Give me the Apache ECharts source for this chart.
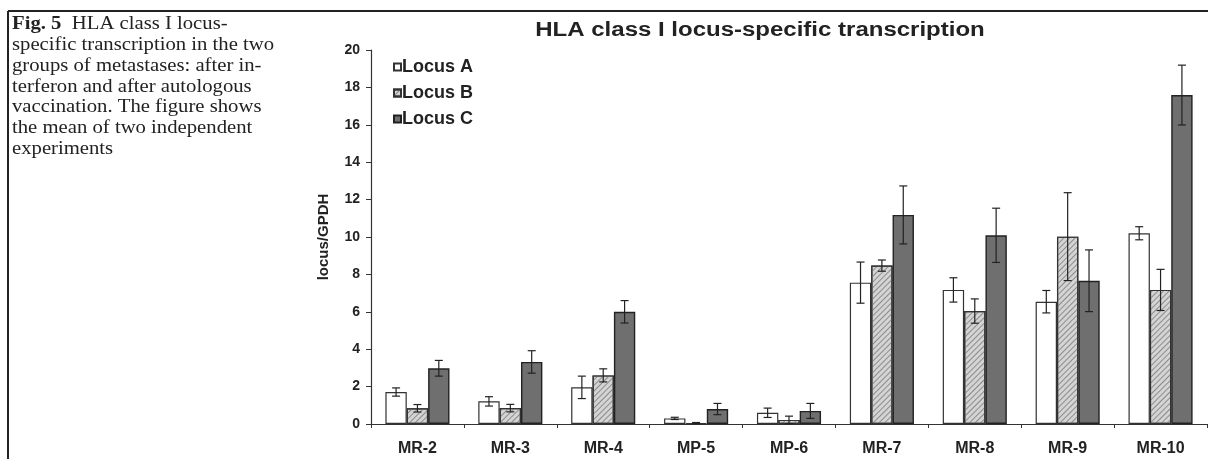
<!DOCTYPE html>
<html>
<head>
<meta charset="utf-8">
<script src="https://cdn.jsdelivr.net/npm/echarts@6/dist/echarts.min.js"></script>
<style>
html,body{margin:0;padding:0;background:#fff;}
#chart{width:1208px;height:459px;}
</style>
</head>
<body>
<div id="chart"></div>
<script>
// ---- data ----
const categories = ['MR-2','MR-3','MR-4','MP-5','MP-6','MR-7','MR-8','MR-9','MR-10'];
const seriesNames = ['Locus A','Locus B','Locus C'];
const locusA = [1.71, 1.21, 1.96, 0.30, 0.60, 7.56, 7.17, 6.54, 10.20];
const locusB = [0.84, 0.85, 2.60, 0.05, 0.22, 8.47, 6.04, 10.02, 7.17];
const locusC = [2.98, 3.32, 6.00, 0.80, 0.70, 11.18, 10.09, 7.66, 17.59];
const errA = [0.22, 0.25, 0.60, 0.06, 0.25, 1.10, 0.65, 0.60, 0.35];
const errB = [0.20, 0.20, 0.35, 0.03, 0.20, 0.30, 0.65, 2.35, 1.10];
const errC = [0.42, 0.60, 0.60, 0.30, 0.40, 1.55, 1.45, 1.65, 1.60];
const yTicks = [0,2,4,6,8,10,12,14,16,18,20];
const title = 'HLA class I locus-specific transcription';
const yName = 'locus/GPDH';
const caption = '{b|Fig. 5}  HLA class I locus-\nspecific transcription in the two\ngroups of metastases: after in-\nterferon and after autologous\nvaccination. The figure shows\nthe mean of two independent\nexperiments';

const values = [locusA, locusB, locusC];
const errs = [errA, errB, errC];
const CAT_GAP = 0.31;
const SANS = 'Arial, "Liberation Sans", sans-serif';
const SERIF = '"Times New Roman", "Liberation Serif", serif';

const chart = echarts.init(document.getElementById('chart'), null, {renderer:'canvas'});

const barStyles = [
  {color:'#ffffff', borderColor:'#333', borderWidth:1.2},
  {color:'#d4d4d4', borderColor:'#333', borderWidth:1.2,
   decal:{symbol:'rect', color:'#8c8c8c', dashArrayX:[1,0], dashArrayY:[1,2.5], rotation:-Math.PI/4, symbolSize:1}},
  {color:'#6f6f6f', borderColor:'#222', borderWidth:1.4}
];

const series = [];
values.forEach((vals, k) => {
  series.push({
    name: seriesNames[k], type:'bar', data: vals,
    barGap: '0%', barCategoryGap: (CAT_GAP*100)+'%',
    itemStyle: barStyles[k], emphasis:{disabled:true}, z:2
  });
});
values.forEach((vals, k) => {
  series.push({
    name: 'err'+k, type:'custom', z:5,
    data: vals.map((v,i)=>[i, v - errs[k][i], v + errs[k][i]]),
    renderItem: function(params, api){
      const ci = api.value(0);
      const catW = api.size([1,0])[0];
      const bw = catW*(1-CAT_GAP)/3;
      const lo = api.coord([ci, api.value(1)]);
      const hi = api.coord([ci, api.value(2)]);
      const x = lo[0] + (k-1)*bw;
      const cap = 4;
      const st = {stroke:'#222', lineWidth:1.2};
      return {type:'group', children:[
        {type:'line', shape:{x1:x, y1:lo[1], x2:x, y2:hi[1]}, style:st},
        {type:'line', shape:{x1:x-cap, y1:lo[1], x2:x+cap, y2:lo[1]}, style:st},
        {type:'line', shape:{x1:x-cap, y1:hi[1], x2:x+cap, y2:hi[1]}, style:st}
      ]};
    }
  });
});

chart.setOption({
  animation:false,
  backgroundColor:'#ffffff',
  aria:{enabled:false, decal:{show:false}},
  grid:{left:371, right:1, top:50, bottom:35, containLabel:false},
  legend:{
    data: seriesNames, orient:'vertical', left:388, top:53,
    icon:'rect', itemWidth:7, itemHeight:7, itemGap:8,
    textStyle:{fontFamily:SANS, fontWeight:'bold', fontSize:18, color:'#222', lineHeight:18, padding:[0,0,0,-4]},
    selectedMode:false
  },
  xAxis:{
    type:'category', data:categories,
    axisLine:{lineStyle:{color:'#333', width:1.2}},
    axisTick:{show:true, length:4, lineStyle:{color:'#333'}},
    axisLabel:{fontFamily:SANS, fontWeight:'bold', fontSize:16, color:'#222', margin:17, interval:0}
  },
  yAxis:{
    type:'value', min:0, max:20, interval:2,
    name: yName, nameLocation:'middle', nameGap:40, nameRotate:90,
    nameTextStyle:{fontFamily:SANS, fontWeight:'bold', fontSize:15, color:'#222'},
    axisLine:{show:true, lineStyle:{color:'#333', width:1.2}},
    axisTick:{show:true, length:5, lineStyle:{color:'#333'}},
    splitLine:{show:false},
    axisLabel:{fontFamily:SANS, fontWeight:'bold', fontSize:14, color:'#222', margin:11,
      formatter: v => yTicks.includes(v) ? String(v) : ''}
  },
  graphic:[
    {type:'line', shape:{x1:8, y1:11, x2:1208, y2:11}, style:{stroke:'#222', lineWidth:2}},
    {type:'line', shape:{x1:8, y1:11, x2:8, y2:459}, style:{stroke:'#222', lineWidth:2}},
    {type:'text', x:760, y:30, scaleX:1.2, style:{text:title, fill:'#222', font:'bold 20px ' + SANS, textAlign:'center', textVerticalAlign:'middle'}},
    {type:'text', x:12, y:14, scaleX:1.15, style:{text:caption, fill:'#222', fontFamily:SERIF, fontSize:18, lineHeight:20.8,
      rich:{b:{fontWeight:'bold', fontFamily:SERIF, fontSize:18, lineHeight:20.8}}}}
  ],
  series: series
});
</script>
</body>
</html>
